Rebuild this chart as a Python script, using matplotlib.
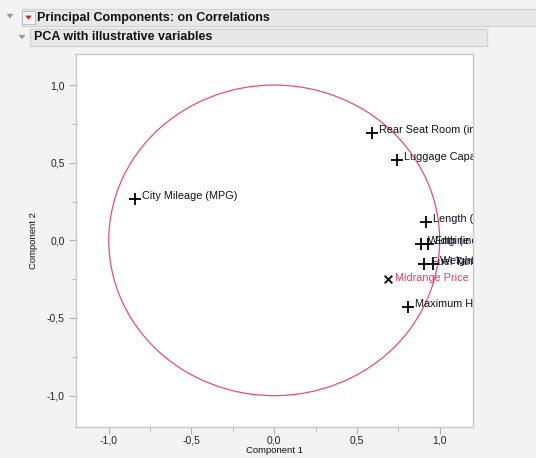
import matplotlib.pyplot as plt
from matplotlib.patches import Rectangle, Circle, Polygon
from matplotlib.ticker import FuncFormatter, MultipleLocator

plt.rcParams['font.family'] = ['Liberation Sans', 'DejaVu Sans']

# Active variables: loadings on component 1 and 2
variables = ["City Mileage (MPG)", "Rear Seat Room (inches)", "Luggage Capacity (cu. ft.)",
             "Length (inches)", "Width (inches)", "Engine Size (liters)",
             "Fuel Tank Capacity (gallons)", "Weight (pounds)", "Maximum Horsepower"]
comp1 = [-0.84, 0.59, 0.74, 0.92, 0.89, 0.93, 0.905, 0.96, 0.81]
comp2 = [0.265, 0.69, 0.52, 0.12, -0.025, -0.025, -0.155, -0.15, -0.43]

# Illustrative (supplementary) variable
illus_names = ["Midrange Price"]
illus_c1 = [0.69]
illus_c2 = [-0.25]

W, H = 536, 458
fig = plt.figure(figsize=(W / 100, H / 100), dpi=100, facecolor='#f3f3f3')


def px(x, y):
    return x / W, 1 - y / H


def bar(x0, y0, x1, y1):
    fig.add_artist(Rectangle(px(x0, y1), (x1 - x0) / W, (y1 - y0) / H,
                             transform=fig.transFigure, facecolor='#e8e8e8',
                             edgecolor='#d4d4d4', lw=1))


def tri(cx, cy, s, color):
    pts = [px(cx - s, cy - s * 0.6), px(cx + s, cy - s * 0.6), px(cx, cy + s * 0.7)]
    fig.add_artist(Polygon(pts, closed=True, transform=fig.transFigure,
                           facecolor=color, edgecolor='none'))


# outline headers
bar(22, 9, 540, 26)
bar(30, 29, 487, 46)
tri(10, 16, 3.5, '#9a9a9a')
tri(22, 37, 3.5, '#9a9a9a')
fig.add_artist(Rectangle(px(22, 24), 13 / W, 13 / H, transform=fig.transFigure,
                         facecolor='#f6f6f6', edgecolor='#c0c0c0', lw=0.8))
tri(28.5, 17.5, 3.2, '#d8202a')
fig.text(*px(37, 17.5), "Principal Components: on Correlations", fontsize=9,
         fontweight='bold', va='center', ha='left', color='#111111')
fig.text(*px(34, 37.5), "PCA with illustrative variables", fontsize=9,
         fontweight='bold', va='center', ha='left', color='#111111')

ax = fig.add_axes([75.7 / W, 1 - 426.7 / H, 397 / W, 372.7 / H])
ax.set_facecolor('white')
ax.set_xlim(-1.2, 1.2)
ax.set_ylim(-1.2, 1.2)

ax.add_patch(Circle((0, 0), 1.0, fill=False, edgecolor='#e8506a', lw=0.9))

ax.scatter(comp1, comp2, marker='+', s=70, color='black', linewidths=1.3, zorder=3)
for name, x, y in zip(variables, comp1, comp2):
    ax.annotate(name, (x, y), xytext=(5, 2), textcoords='offset points',
                fontsize=7.8, color='#111122', va='center', ha='left', clip_on=True)

ax.scatter(illus_c1, illus_c2, marker='x', s=30, color='#111111', linewidths=1.4, zorder=3)
for name, x, y in zip(illus_names, illus_c1, illus_c2):
    ax.annotate(name, (x, y), xytext=(5, 1), textcoords='offset points',
                fontsize=7.8, color='#f03c55', va='center', ha='left', clip_on=True)

fmt = FuncFormatter(lambda v, pos: f"{v:.1f}".replace('.', ','))
for axis in (ax.xaxis, ax.yaxis):
    axis.set_major_locator(MultipleLocator(0.5))
    axis.set_minor_locator(MultipleLocator(0.25))
    axis.set_major_formatter(fmt)

ax.tick_params(which='both', direction='out', color='#b0b0b0', labelsize=7.5,
               labelcolor='#222222')
ax.tick_params(which='major', length=5, width=0.8, pad=3)
ax.tick_params(axis='x', which='major', pad=1.5)
ax.tick_params(which='minor', length=3, width=0.6)
for sp in ax.spines.values():
    sp.set_color('#c8c8c8')
    sp.set_linewidth(1.0)

ax.set_xlabel("Component 1", fontsize=6.8, labelpad=0, color='#111111')
ax.set_ylabel("Component 2", fontsize=6.8, labelpad=6, color='#111111')

fig.savefig('out.png', dpi=100, facecolor=fig.get_facecolor())
